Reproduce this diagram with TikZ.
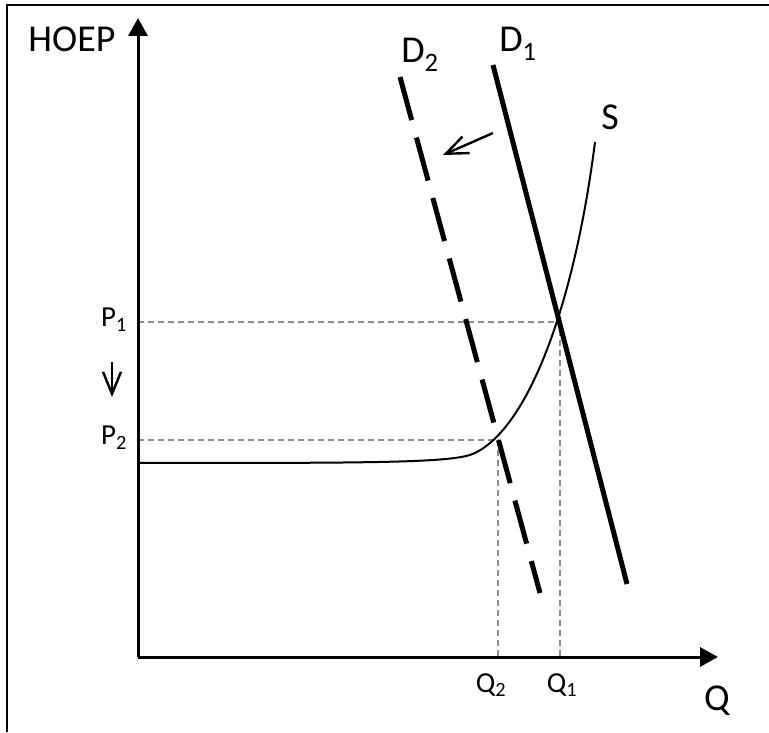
\documentclass[tikz,border=0pt]{standalone}
\usepackage{fontspec}
\setmainfont{Carlito}
\usetikzlibrary{arrows.meta}
\usetikzlibrary{positioning}

\begin{document}
\begin{tikzpicture}[
  x=1pt, y=1pt,
  every node/.style={inner sep=0pt, anchor=base, font=\fontsize{38}{45}\selectfont},
  sublabel/.style={font=\fontsize{29}{35}\selectfont},
  axisline/.style={line width=3pt, -{Triangle[length=18pt, width=19pt]}},
  guideline/.style={draw=gray!90, line width=1.2pt, dash pattern=on 6pt off 4pt},
  demand/.style={line width=5pt},
  shiftarrow/.style={line width=2.4pt, -{Straight Barb[length=22pt, width=18pt]}},
]
\useasboundingbox (0,0) rectangle (769,732);
\draw[line width=2pt] (7,0) -- (7,727) -- (769,727);

\coordinate (O) at (138,75);
\coordinate (ytop) at (138,714);
\coordinate (xend) at (718,75);
\coordinate (d1top) at (493,667);
\coordinate (d1bot) at (627,148);
\coordinate (d2top) at (400,655);
\coordinate (d2bot) at (540,139);
\coordinate (E1) at (560,410);
\coordinate (E2) at (498,292);
\coordinate (p1) at (O |- E1);
\coordinate (p2) at (O |- E2);
\coordinate (q1) at (E1 |- O);
\coordinate (q2) at (E2 |- O);

\draw[guideline] (p1) -- (E1) -- (q1);
\draw[guideline] (p2) -- (E2) -- (q2);

\draw[axisline] (O) -- (ytop);
\draw[axisline] (O) -- (xend);

\draw[demand] (d1top) -- (d1bot);
\draw[demand, dash pattern=on 44.6pt off 18.1pt] (d2top) -- (d2bot);

\draw[line width=2pt] (138,269) .. controls (380,269) and (455,269) .. (475,279)
  .. controls (530,306) and (575,432) .. (595,590);

\coordinate (shiftfrom) at (493,599);
\coordinate (shiftto) at (443,577);
\draw[shiftarrow] (shiftfrom) -- (shiftto);
\coordinate (dropfrom) at (112,370);
\coordinate (dropto) at (112,335);
\draw[shiftarrow] (dropfrom) -- (dropto);

\node (hoep) at (72,680) {HOEP};
\node (qlab) at (717,22) {Q};
\node (slab) at (610,602) {S};
\node (d1lab) at (518,680) {D\textsubscript{1}};
\node (d2lab) at (420,669) {D\textsubscript{2}};
\node (p1lab) [sublabel] at (114,405) {P\textsubscript{1}};
\node (p2lab) [sublabel] at (114,287) {P\textsubscript{2}};
\node (q1lab) [sublabel] at (562,40) {Q\textsubscript{1}};
\node (q2lab) [sublabel] at (491,40) {Q\textsubscript{2}};
\end{tikzpicture}
\end{document}
